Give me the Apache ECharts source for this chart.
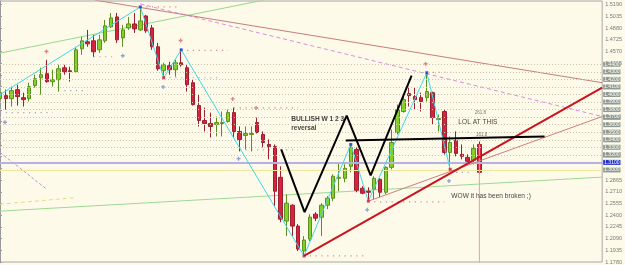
<!DOCTYPE html>
<html><head><meta charset="utf-8">
<script src="https://cdn.jsdelivr.net/npm/echarts@6/dist/echarts.min.js"></script>
<style>html,body{margin:0;padding:0;background:#fdfaea}#c{width:625px;height:265px}</style>
</head><body><div id="c"></div>
<script>
// ---------- DATA ----------
const slotCount = 104;            // bar slots on the x axis (83 bars + empty space on the right)
// [open, close, low, high]
const candles = [
[1.3945,1.4024,1.3800,1.4130],[1.3985,1.3945,1.3800,1.4064],[1.3945,1.4051,1.3840,1.4104],[1.4064,1.3972,1.3853,1.4130],
[1.3958,1.3932,1.3840,1.4024],[1.3945,1.4104,1.3906,1.4156],[1.4117,1.4209,1.4090,1.4262],[1.4222,1.4262,1.3998,1.4354],
[1.4275,1.4170,1.4156,1.4460],[1.4170,1.4196,1.4104,1.4328],[1.4196,1.4341,1.4038,1.4394],[1.4354,1.4302,1.4262,1.4394],
[1.4315,1.4302,1.4170,1.4368],[1.4302,1.4592,1.4288,1.4632],[1.4605,1.4711,1.4526,1.4764],[1.4698,1.4671,1.4632,1.4856],
[1.4711,1.4566,1.4500,1.4790],[1.4592,1.4724,1.4552,1.4790],[1.4711,1.4909,1.4684,1.4988],[1.4896,1.5014,1.4882,1.5080],
[1.5028,1.4724,1.4684,1.5080],[1.4750,1.4856,1.4632,1.4922],[1.4882,1.4935,1.4856,1.5028],[1.4935,1.4869,1.4816,1.5080],
[1.4856,1.4975,1.4843,1.5160],[1.5041,1.4843,1.4816,1.5054],[1.4882,1.4632,1.4592,1.4922],[1.4632,1.4341,1.4315,1.4684],
[1.4315,1.4394,1.4222,1.4420],[1.4381,1.4328,1.4262,1.4434],[1.4328,1.4420,1.4236,1.4460],[1.4420,1.4394,1.4368,1.4592],
[1.4354,1.4130,1.4038,1.4394],[1.4156,1.3866,1.3853,1.4196],[1.3853,1.3655,1.3576,1.3998],[1.3655,1.3615,1.3510,1.3826],
[1.3615,1.3576,1.3430,1.3760],[1.3602,1.3628,1.3444,1.3708],[1.3615,1.3628,1.3444,1.3774],[1.3642,1.3760,1.3628,1.3800],
[1.3760,1.3510,1.3430,1.3826],[1.3510,1.3404,1.3246,1.3576],[1.3457,1.3483,1.3272,1.3576],[1.3470,1.3483,1.3246,1.3576],
[1.3628,1.3496,1.3483,1.3694],[1.3470,1.3364,1.3298,1.3510],[1.3338,1.3312,1.3140,1.3404],[1.3312,1.2718,1.2520,1.3338],
[1.2902,1.2348,1.2308,1.3048],[1.2322,1.2559,1.2124,1.2678],[1.2533,1.2256,1.2124,1.2546],[1.2256,1.1952,1.1926,1.2282],
[1.1926,1.2071,1.1860,1.2124],[1.2084,1.2374,1.2058,1.2414],[1.2414,1.2361,1.2322,1.2440],[1.2374,1.2533,1.2124,1.2559],
[1.2533,1.2625,1.2480,1.2652],[1.2625,1.2916,1.2586,1.2942],[1.2889,1.2902,1.2718,1.3100],[1.2889,1.3021,1.2836,1.3074],
[1.3048,1.3298,1.2968,1.3338],[1.3272,1.2731,1.2704,1.3298],[1.2757,1.2691,1.2678,1.2784],[1.2718,1.2704,1.2586,1.2770],
[1.2744,1.2889,1.2612,1.2916],[1.2876,1.2704,1.2638,1.2889],[1.2704,1.3034,1.2678,1.3048],[1.3034,1.3364,1.3008,1.3536],
[1.3496,1.3800,1.3470,1.3866],[1.3774,1.3932,1.3760,1.3998],[1.4011,1.3985,1.3840,1.4104],[1.3972,1.3932,1.3800,1.4090],
[1.3958,1.3906,1.3774,1.4024],[1.3958,1.4038,1.3906,1.4288],[1.4024,1.3694,1.3602,1.4038],[1.3668,1.3681,1.3510,1.3734],
[1.3774,1.3232,1.3206,1.3800],[1.3232,1.3364,1.3008,1.3444],[1.3391,1.3219,1.3180,1.3510],[1.3206,1.3180,1.3140,1.3338],
[1.3166,1.3114,1.3074,1.3206],[1.3127,1.3285,1.3074,1.3338],[1.3338,1.2968,1.2942,1.3378]
];
// y axis: tick step and range (min is a multiple of the step)
const yMin = 1.1780, yMax = 1.52388, yStep = 0.0155;
// horizontal dotted levels; [price, hasLabel]
const dottedLevels = [
[1.4354,1],[1.4302,0],[1.4262,1],[1.4222,0],[1.4170,1],[1.4130,0],[1.4090,1],[1.4038,0],[1.3998,1],[1.3958,0],
[1.3919,1],[1.3866,0],[1.3826,1],[1.3787,0],[1.3734,1],[1.3694,0],[1.3655,1],[1.3602,0],[1.3562,1],[1.3523,0],
[1.3483,1],[1.3444,0],[1.3404,1],[1.3364,0],[1.3325,1],[1.3285,0],[1.3232,1],[1.3193,0],[1.3153,1]
];
const currentPrice = 1.3100;
const yellowLevels = [1.2988, 1.2962];
// zigzag [x, price]
const zigzag = [[0,1.3998],[24,1.5160],[28,1.4222],[31,1.4592],[52,1.1860],[60,1.3338],[63,1.2586],[73,1.4288],[77,1.3008]];
const zigHighs = [[24,1.5160],[31,1.4592],[60,1.3338],[73,1.4288]];
const zigLows = [[28,1.4222],[52,1.1860],[63,1.2586],[77,1.3008]];
// W pattern and neckline
const wPattern = [[48.1,1.3272],[52.1,1.2440],[59.3,1.3721],[63.4,1.2929],[70.4,1.4249]];
const neckline = [[59.15,1.3391],[93.15,1.3444]];
// trend lines
const greenUpper = [[0,1.4548],[45.2,1.5252]];
const greenLower = [[0,1.2454],[103,1.2905]];
const yellowDash = [[0,1.2546],[13.1,1.2634]];
const violetLong = [[24,1.5199],[103,1.3708]];
const violetSteep = [[0,1.3232],[8,1.2744]];
const brownLine = [[16.15,1.5252],[103,1.4156]];
const redThick = [[52,1.1860],[103,1.4090]];
const redThin = [[63,1.2586],[103,1.3708]];
const pinkVertical = [[82,1.3338],[82,1.1700]];
// small markers
const redPlus = [[30.9,1.4715],[7.94,1.4570],[39.8,1.3941],[43.8,1.3822],[72.8,1.4407]];
const bluePlus = [[27.9,1.4100],[40.8,1.3149],[62.8,1.2471],[76.8,1.2854],[0.85,1.3632],[21,1.4513]];
// fractal dot rows [xStart, xEnd, price]
const pinkRows = [[25,30.5,1.5160],[32,39,1.4585],[40,51,1.3822],[53,62.5,1.1860],[64,76,1.2576],[79,81,1.3500],[74,78,1.4292]];
const greyRows = [[16,19.5,1.4500],[11,15,1.4051],[0,9,1.3760],[29,37.5,1.4222],[41,51,1.3265],[78,81,1.2968]];
// annotations [x, price, text]
const bigNotes = [[49.8,1.3668,'BULLISH W 1 2 3'],[49.8,1.3549,'reversal'],[78.4,1.3628,'LOL AT THIS'],[77.2,1.2652,'WOW it has been broken ;)']];
const fibNotes = [[81.2,1.3760,'261.8'],[81.4,1.3470,'161.8']];

// ---------- CHART ----------
const chart = echarts.init(document.getElementById('c'));
const categories = Array.from({length: slotCount}, (_, i) => String(i));
function seg(data, color, width, type, z) {
  return {type:'line', xAxisIndex:1, yAxisIndex:0, data, symbol:'none', silent:true, clip:true, z:z||4,
    lineStyle:{color, width, type:type||'solid'}, animation:false};
}
const boxLabel = (show, bg) => ({show, position:'end', distance:1, formatter:(p)=>Number(p.value).toFixed(4), fontSize:5,
  color:'#ffffff', backgroundColor:bg, padding:[0,1], fontFamily:'Liberation Sans'});
const series = [];
series.push({
  type:'line', xAxisIndex:1, data:[], silent:true, z:1, animation:false,
  markLine:{silent:true, symbol:'none', animation:false, data:
    dottedLevels.map(l => ({yAxis:l[0], lineStyle:{color:'#cdc4aa', width:1, type:[1,2]}, label:boxLabel(!!l[1], '#8f9a92')}))
    .concat(yellowLevels.map((v, k) => ({yAxis:v, lineStyle:{color:'#efe6a0', width:1, type:'solid'}, label:boxLabel(k===1, '#8f9a92')})))
    .concat([{yAxis:currentPrice, lineStyle:{color:'#b7b0e0', width:2, type:'solid'}, label:boxLabel(true, '#2233cc')}])
  }
});
series.push(seg(greenUpper, '#96d88c', 1, 'solid', 2));
series.push(seg(greenLower, '#9ed894', 1, 'solid', 2));
series.push(seg(yellowDash, '#e4dc8a', 1, [4,3], 2));
series.push(seg(violetLong, '#d88ee0', 1, [4,3], 2));
series.push(seg(violetSteep, '#c08ee0', 1, [3,2], 2));
series.push(seg(brownLine, '#c87c7c', 1, 'solid', 2));
pinkRows.forEach(r => series.push(seg([[r[0], r[2]], [r[1], r[2]]], '#d58a94', 1.2, [1.2,4.6], 2)));
greyRows.forEach(r => series.push(seg([[r[0], r[2]], [r[1], r[2]]], '#a7a7b4', 1.2, [1.2,4.6], 2)));
series.push({
  type:'candlestick', xAxisIndex:0, yAxisIndex:0, data:candles, barWidth:4, z:3, silent:true, animation:false,
  itemStyle:{color:'#84d02a', color0:'#d42440', borderColor:'#5b8f22', borderColor0:'#9c2030', borderWidth:1}
});
series.push(seg(zigzag, '#3fd6e6', 1, 'solid', 5));
series.push(seg(pinkVertical, '#e8a0a0', 1, 'solid', 5));
series.push(seg(redThin, '#d07e7e', 1, 'solid', 5));
series.push(seg(redThick, '#c8141c', 2, 'solid', 6));
series.push(seg(neckline, '#000000', 2, 'solid', 6));
series.push(seg(wPattern, '#000000', 2, 'solid', 6));
const plusPath = 'path://M2,0h2v2h2v2h-2v2h-2v-2h-2v-2h2z';
series.push({type:'scatter', xAxisIndex:1, data:redPlus, symbol:plusPath, symbolSize:4, itemStyle:{color:'#d86a6a'}, silent:true, z:5, animation:false});
series.push({type:'scatter', xAxisIndex:1, data:bluePlus, symbol:plusPath, symbolSize:4, itemStyle:{color:'#6f8fd0'}, silent:true, z:5, animation:false});
series.push({type:'scatter', xAxisIndex:1, data:zigHighs, symbol:'rect', symbolSize:3, itemStyle:{color:'#1a2fc8'}, silent:true, z:7, animation:false});
series.push({type:'scatter', xAxisIndex:1, data:zigLows, symbol:'rect', symbolSize:3, itemStyle:{color:'#c82030'}, silent:true, z:7, animation:false});
series.push({type:'scatter', xAxisIndex:1, symbolSize:0, silent:true, z:8, animation:false,
  data: bigNotes.map(n => ({value:[n[0], n[1]], label:{show:true, position:'right', distance:0, formatter:n[2],
    fontSize:6.6, color:'#111111', fontFamily:'Liberation Sans', fontWeight: n[2].startsWith('BULL') || n[2]==='reversal' ? 'bold' : 'normal'}}))});
series.push({type:'scatter', xAxisIndex:1, symbolSize:0, silent:true, z:8, animation:false,
  data: fibNotes.map(n => ({value:[n[0], n[1]], label:{show:true, position:'right', distance:0, formatter:n[2],
    fontSize:4.5, color:'#555555', fontFamily:'Liberation Sans'}}))});

chart.setOption({
  backgroundColor:'#fdfaea',
  animation:false,
  grid:{left:0, right:19, top:1, height:262, show:true, borderColor:'#a8a8a8', borderWidth:1, backgroundColor:'#fdfaea'},
  xAxis:[
    {type:'category', data:categories, boundaryGap:false, show:false},
    {type:'value', min:0, max:slotCount-1, show:false}
  ],
  yAxis:{type:'value', position:'right', min:yMin, max:yMax, interval:yStep,
    splitLine:{show:false},
    axisLine:{show:true, lineStyle:{color:'#9a9a9a'}},
    axisTick:{show:true, length:2, lineStyle:{color:'#9a9a9a'}},
    axisLabel:{fontSize:5.5, color:'#7a7a7a', margin:3, showMinLabel:true, showMaxLabel:false, fontFamily:'Liberation Sans',
      formatter:(v)=> (v > 1.29 && v < 1.44) ? '' : v.toFixed(4)}
  },
  series
});
</script></body></html>
